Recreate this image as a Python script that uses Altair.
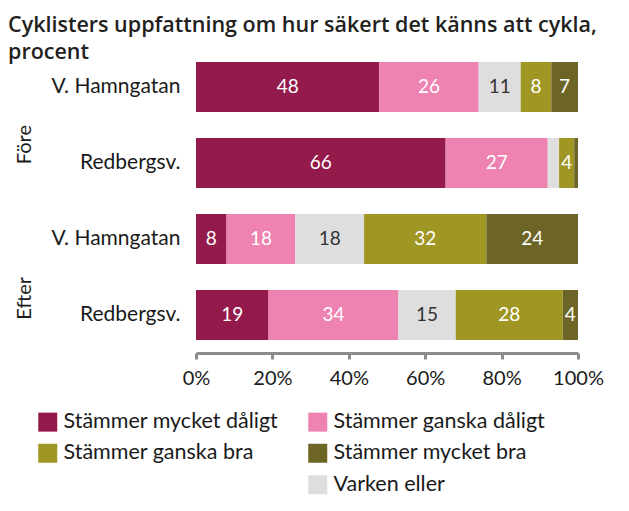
import altair as alt
import pandas as pd

groups = ["Före", "Före", "Efter", "Efter"]
sites = ["V. Hamngatan", "Redbergsv.", "V. Hamngatan", "Redbergsv."]
categories = ["Stämmer mycket dåligt", "Stämmer ganska dåligt", "Varken eller",
              "Stämmer ganska bra", "Stämmer mycket bra"]
mycket_daligt = [48, 66, 8, 19]
ganska_daligt = [26, 27, 18, 34]
varken_eller = [11, 3, 18, 15]
ganska_bra = [8, 4, 32, 28]
mycket_bra = [7, 1, 24, 4]
x_ticks = [0, 0.2, 0.4, 0.6, 0.8, 1.0]

cat_colors = {
    "Stämmer mycket dåligt": "#941a4b",
    "Stämmer ganska dåligt": "#ee82b1",
    "Varken eller": "#dedede",
    "Stämmer ganska bra": "#a09623",
    "Stämmer mycket bra": "#6c6526",
}
legend_order = ["Stämmer mycket dåligt", "Stämmer ganska dåligt",
                "Stämmer ganska bra", "Stämmer mycket bra", " ", "Varken eller"]
legend_colors = [cat_colors.get(c, "transparent") for c in legend_order]

series = [mycket_daligt, ganska_daligt, varken_eller, ganska_bra, mycket_bra]
rows = []
for i, (g, s) in enumerate(zip(groups, sites)):
    for k, (cat, vals) in enumerate(zip(categories, series)):
        rows.append({"group": g, "site": s, "cat": cat, "rank": k, "value": vals[i]})
df = pd.DataFrame(rows)

LABEL_FONT = "Lato"
TXT = "#1a1a1a"

y_enc = alt.Y("site:N", sort=["V. Hamngatan", "Redbergsv."],
              scale=alt.Scale(paddingInner=0.34, paddingOuter=0.17),
              axis=alt.Axis(title=None, ticks=False, domain=False, labelFontSize=21,
                            labelFont=LABEL_FONT, labelColor=TXT, labelPadding=16))
x_enc = alt.X("x0:Q", scale=alt.Scale(domain=[0, 1]),
              axis=alt.Axis(title=None, values=x_ticks, format=".0%", grid=False,
                            labelFlush=False,
                            domainColor="#8c8c8c", domainWidth=3, tickColor="#8c8c8c",
                            tickWidth=3, tickSize=6, labelFontSize=20, labelFont=LABEL_FONT,
                            labelColor=TXT, labelPadding=9))

bars = alt.Chart().mark_bar(size=50).encode(
    y=y_enc,
    x=x_enc,
    x2="x1:Q",
    color=alt.Color("cat:N", scale=alt.Scale(domain=legend_order, range=legend_colors),
                    legend=alt.Legend(title=None, orient="none", legendX=-159, legendY=362,
                                      direction="horizontal",
                                      columns=2, columnPadding=28, rowPadding=8.5,
                                      symbolType="square", symbolSize=361,
                                      symbolStrokeWidth=0, symbolOpacity=1,
                                      labelFontSize=21.5, labelFont=LABEL_FONT,
                                      labelColor=TXT, labelOffset=5,
                                      labelLimit=300)),
)

text = alt.Chart().transform_filter(alt.datum.value >= 4).transform_calculate(
    mid="(datum.x0 + datum.x1) / 2"
).mark_text(fontSize=19, font=LABEL_FONT).encode(
    y=alt.Y("site:N", sort=["V. Hamngatan", "Redbergsv."]),
    x=alt.X("mid:Q"),
    text=alt.Text("value:Q"),
    color=alt.condition(alt.datum.cat == "Varken eller", alt.value("#333333"), alt.value("white")),
)

layered = alt.layer(bars, text, data=df).transform_stack(
    stack="value", groupby=["group", "site"], as_=["x0", "x1"],
    offset="normalize", sort=[alt.SortField("rank", order="ascending")]
).properties(width=382, height=152)

chart = layered.facet(
    row=alt.Row("group:N", sort=["Före", "Efter"], title=None,
                header=alt.Header(labelAngle=-90, labelAlign="right", labelOrient="left",
                                  labelFontSize=20, labelFont=LABEL_FONT,
                                  labelColor=TXT, labelPadding=5)),
).resolve_scale(y="independent").properties(
    title=alt.TitleParams(
        ["Cyklisters uppfattning om hur säkert det känns att cykla,", "procent"],
        anchor="start", fontSize=21.5, font="Open Sans", fontWeight=600, color="#231f20",
        lineHeight=27, offset=-14.5, dx=-7)
).configure_facet(spacing=0).configure_view(stroke=None).properties(
    padding={"left": 0, "top": 7, "right": 5, "bottom": 5}
)

chart.save("out.html", embed_options={"renderer": "svg", "actions": False})
